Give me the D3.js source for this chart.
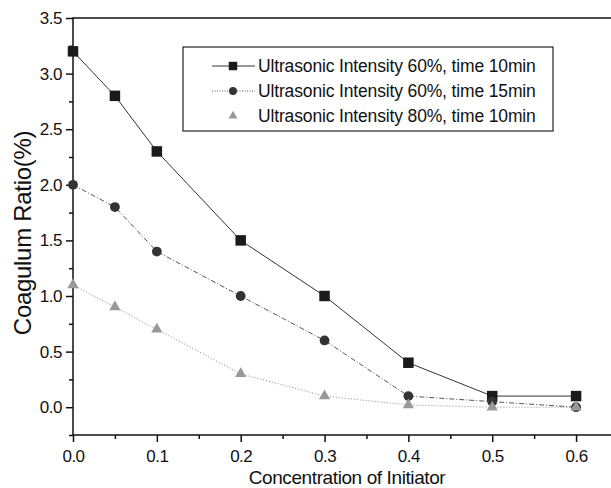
<!DOCTYPE html>
<html>
<head>
<meta charset="utf-8">
<script src="https://cdn.jsdelivr.net/npm/d3@7"></script>
<style>
  body { margin: 0; background: #fff; }
  svg text { font-family: "Liberation Sans", Arial, sans-serif; fill: #111; }
</style>
</head>
<body>
<div id="chart"></div>
<script>
// Data
const concentration = [0.0, 0.05, 0.1, 0.2, 0.3, 0.4, 0.5, 0.6];
const seriesNames = [
  "Ultrasonic Intensity 60%, time 10min",
  "Ultrasonic Intensity 60%, time 15min",
  "Ultrasonic Intensity 80%, time 10min"
];
const ratio60_10 = [3.2, 2.8, 2.3, 1.5, 1.0, 0.4, 0.1, 0.1];
const ratio60_15 = [2.0, 1.8, 1.4, 1.0, 0.6, 0.1, 0.05, 0.0];
const ratio80_10 = [1.1, 0.9, 0.7, 0.3, 0.1, 0.02, 0.0, 0.0];
const xTicks = [0.0, 0.1, 0.2, 0.3, 0.4, 0.5, 0.6];
const yTicks = [0.0, 0.5, 1.0, 1.5, 2.0, 2.5, 3.0, 3.5];

const width = 611, height = 488;
const margin = { top: 18, right: -7, bottom: 53, left: 73 };

const svg = d3.select("#chart").append("svg")
  .attr("width", width)
  .attr("height", height);

const x = d3.scaleLinear().domain([0, 0.65]).range([margin.left, width - margin.right]);
const y = d3.scaleLinear().domain([-0.25, 3.5]).range([height - margin.bottom, margin.top]);

// frame
svg.append("rect")
  .attr("x", x(0)).attr("y", y(3.5))
  .attr("width", x(0.65) - x(0)).attr("height", y(-0.25) - y(3.5))
  .attr("fill", "none").attr("stroke", "#111").attr("stroke-width", 1.5);

// x axis with minor ticks
const xAxis = svg.append("g").attr("transform", `translate(0,${y(-0.25)})`);
xAxis.call(d3.axisBottom(x).tickValues(xTicks).tickFormat(d3.format(".1f")).tickSize(7).tickPadding(8));
xAxis.append("g").call(d3.axisBottom(x).tickValues(d3.range(0.05, 0.65, 0.1)).tickFormat("").tickSize(4));

const yAxis = svg.append("g").attr("transform", `translate(${x(0)},0)`);
yAxis.call(d3.axisLeft(y).tickValues(yTicks).tickFormat(d3.format(".1f")).tickSize(7).tickPadding(4));
yAxis.append("g").call(d3.axisLeft(y).tickValues(d3.range(-0.25, 3.5, 0.5)).tickFormat("").tickSize(4));

svg.selectAll(".domain").remove();
svg.selectAll(".tick line").attr("stroke", "#111").attr("stroke-width", 1.5);
svg.selectAll(".tick text").style("font-size", "17px").style("letter-spacing", "-0.5px").attr("fill", "#111");

// axis titles
svg.append("text")
  .attr("x", 347).attr("y", 484)
  .attr("text-anchor", "middle")
  .style("font-size", "19px").style("letter-spacing", "-0.4px")
  .text("Concentration of Initiator");

svg.append("text")
  .attr("transform", `translate(31,233) rotate(-90)`)
  .attr("text-anchor", "middle")
  .style("font-size", "24px").style("letter-spacing", "-0.3px")
  .text("Coagulum Ratio(%)");

const series = [
  { name: seriesNames[0], values: ratio60_10, dash: null, color: "#333", shape: d3.symbolSquare, size: 110, fill: "#1a1a1a" },
  { name: seriesNames[1], values: ratio60_15, dash: "5,2,1,2", color: "#555", shape: d3.symbolCircle, size: 75, fill: "#333" },
  { name: seriesNames[2], values: ratio80_10, dash: "1,2", color: "#888", shape: d3.symbolTriangle, size: 55, fill: "#999" }
];

const line = d3.line().x((d, i) => x(concentration[i])).y(d => y(d));

series.forEach(s => {
  svg.append("path")
    .attr("d", line(s.values))
    .attr("fill", "none")
    .attr("stroke", s.color)
    .attr("stroke-width", 1)
    .attr("stroke-dasharray", s.dash);
  svg.append("g").selectAll("path")
    .data(s.values)
    .join("path")
    .attr("transform", (d, i) => `translate(${x(concentration[i])},${y(d)})`)
    .attr("d", d3.symbol().type(s.shape).size(s.size))
    .attr("fill", s.fill);
});

// legend
const legend = svg.append("g").attr("transform", "translate(183,47)");
legend.append("rect")
  .attr("width", 370).attr("height", 84)
  .attr("fill", "#fff").attr("stroke", "#222").attr("stroke-width", 1.2);
series.forEach((s, i) => {
  const g = legend.append("g").attr("transform", `translate(0,${19 + i * 25})`);
  if (i < 2) {
    g.append("line").attr("x1", 29).attr("x2", 72)
      .attr("stroke", s.color).attr("stroke-width", 1)
      .attr("stroke-dasharray", i === 1 ? "1,1.5" : null);
  }
  g.append("path")
    .attr("transform", "translate(50,0)")
    .attr("d", d3.symbol().type(s.shape).size(s.size * 0.65))
    .attr("fill", s.fill);
  g.append("text")
    .attr("x", 75).attr("y", 6)
    .style("font-size", "17.5px").style("letter-spacing", "-0.15px")
    .text(s.name);
});
</script>
</body>
</html>
